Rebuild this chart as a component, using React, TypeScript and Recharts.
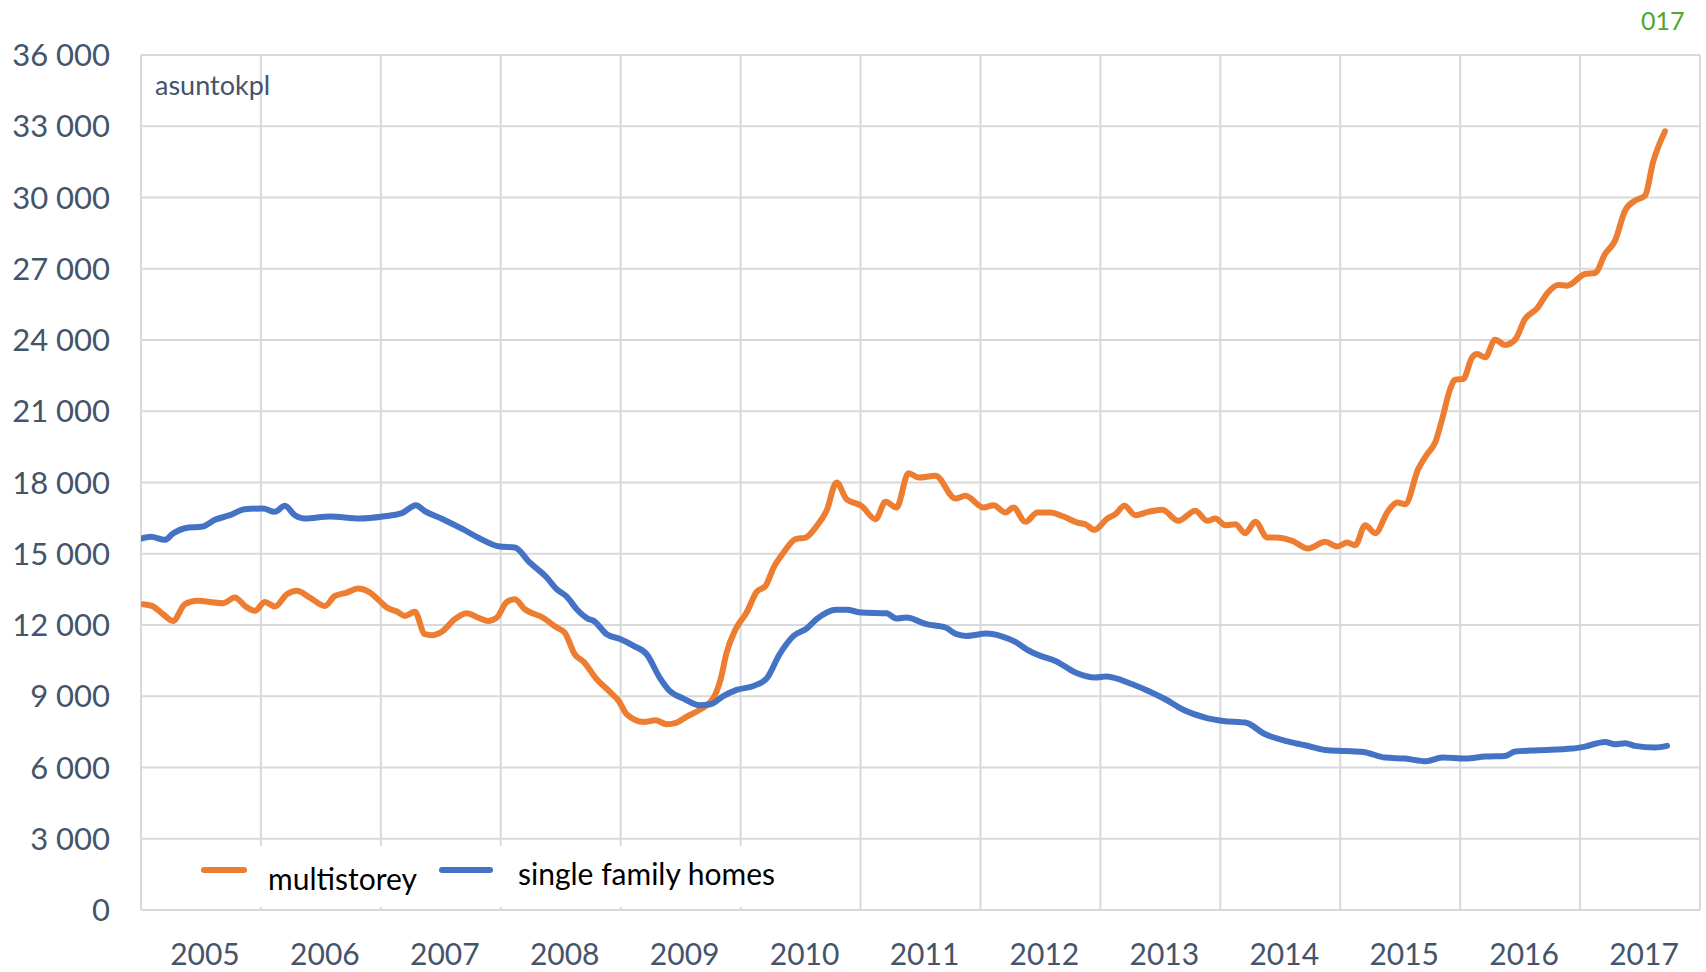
import { LineChart, Line, XAxis, YAxis, CartesianGrid } from "recharts";

// months counted from Jan 2005 (0) – values are rolling 12 month sums
const multistoreyMonths = [
  0.2, 1.1, 2.2, 3.2, 4.4, 5.6, 8.2, 9.4, 10.4, 11.4, 12.4, 13.4, 14.6, 15.6, 16.9, 18.4, 19.4, 20.6,
  21.7, 22.9, 23.7, 24.6, 25.6, 26.4, 27.4, 28.4, 29.1, 30.2, 31.4, 32.6, 33.7, 34.7, 35.6, 36.6,
  37.4, 38.4, 40.2, 41.6, 42.4, 43.4, 44.3, 45.6, 47, 47.8, 48.6, 50.3, 51.5, 52.6, 53.6, 54.6, 55.9,
  57.3, 58, 58.6, 59.5, 60.6, 61.6, 62.5, 63.3, 64.3, 65.5, 66.5, 67.5, 68.6, 69.6, 70.6, 72.1, 73.5,
  74.5, 75.6, 76.8, 77.8, 79.5, 81.5, 82.5, 84.3, 85.3, 86.5, 87.3, 88.5, 89.7, 91, 92.3, 93.7, 94.5,
  95.4, 96.7, 97.5, 98.4, 99.5, 100.8, 102.2, 103.8, 105.5, 106.7, 107.5, 108.5, 109.5, 110.5, 111.5,
  112.7, 113.5, 115.2, 116.8, 118.5, 119.7, 120.7, 121.5, 122.5, 123.5, 124.8, 125.7, 126.5, 127.8,
  128.7, 129.5, 130.2, 131, 131.5, 132.3, 133.2, 133.7, 134.5, 135.5, 136.5, 137.5, 138.5, 139.7,
  140.8, 141.8, 142.7, 144.5, 145.5, 146.5, 147.5, 148.5, 149.5, 150.5, 151.3, 152.5,
];
const multistoreyValues = [
  12875, 12805, 12454, 12173, 12875, 13016, 12917, 13156, 12805, 12595, 12973, 12777, 13297, 13437,
  13156, 12805, 13226, 13367, 13535, 13367, 13086, 12735, 12567, 12384, 12553, 11612, 11570, 11752,
  12244, 12496, 12314, 12173, 12314, 12973, 13086, 12665, 12314, 11893, 11682, 10769, 10447, 9716,
  9155, 8804, 8242, 7919, 7989, 7821, 7891, 8144, 8425, 8944, 9716, 10839, 11822, 12524, 13395,
  13647, 14420, 15052, 15613, 15683, 16105, 16807, 18000, 17298, 17017, 16456, 17186, 16947, 18393,
  18211, 18281, 17326, 17438, 16947, 17045, 16736, 16947, 16343, 16736, 16736, 16568, 16315, 16245,
  16006, 16484, 16666, 17017, 16624, 16764, 16849, 16385, 16807, 16385, 16484, 16203, 16245, 15866,
  16343, 15683, 15683, 15543, 15220, 15501, 15304, 15473, 15360, 16203, 15866, 16807, 17158, 17087,
  18562, 19193, 19685, 20673, 21937, 22330, 22358, 23270, 23410, 23270, 24014, 23790, 24014, 24885,
  25334, 26008, 26317, 26289, 26780, 26822, 27623, 28184, 29448, 29869, 30080, 31484, 32789,
];

const singleFamilyMonths = [
  0, 1, 2.4, 3.2, 4.4, 6.2, 7.4, 8.9, 10.4, 12.2, 13.4, 14.4, 15.4, 16.4, 18.9, 21.9, 24.2, 26.1,
  27.5, 28.4, 30.2, 32.2, 33.6, 35.9, 37.4, 38.9, 40.6, 41.6, 42.6, 43.6, 44.7, 45.3, 46.6, 48, 49.3,
  50.6, 51.9, 52.9, 54.3, 55.9, 57, 58.3, 59.6, 61.3, 62.6, 63.9, 65.3, 66.6, 67.6, 69.6, 70.6, 72.1,
  74.6, 75.6, 76.6, 78.6, 80.5, 81.6, 82.6, 84.6, 86.2, 87.5, 88.7, 90, 91.5, 93.5, 95.5, 96.5, 99.2,
  100.8, 102.5, 104.2, 106.5, 108.3, 110.5, 112.5, 114.5, 116.5, 118.5, 120.5, 122.3, 124.5, 126.5,
  128.6, 130.2, 132.5, 134.5, 136.5, 137.5, 139.8, 143.2, 144.5, 146.5, 147.5, 148.5, 149.5, 151.5,
  152.7,
];
const singleFamilyValues = [
  15641, 15712, 15585, 15852, 16076, 16147, 16428, 16624, 16877, 16905, 16764, 17017, 16624, 16484,
  16568, 16484, 16568, 16708, 17045, 16793, 16456, 16035, 15712, 15304, 15262, 14630, 13999, 13507,
  13198, 12665, 12272, 12173, 11612, 11401, 11120, 10769, 9787, 9225, 8902, 8621, 8663, 9014, 9267,
  9436, 9745, 10769, 11542, 11851, 12244, 12637, 12637, 12524, 12496, 12272, 12314, 12033, 11893,
  11612, 11542, 11640, 11514, 11289, 10952, 10699, 10489, 9997, 9787, 9829, 9506, 9225, 8874, 8453,
  8102, 7961, 7891, 7400, 7119, 6937, 6740, 6698, 6656, 6417, 6375, 6262, 6417, 6375, 6459, 6487,
  6670, 6726, 6796, 6881, 7077, 6979, 7021, 6909, 6839, 6909,
];

const years = [2005, 2006, 2007, 2008, 2009, 2010, 2011, 2012, 2013, 2014, 2015, 2016, 2017];
const yTicks = [0, 3000, 6000, 9000, 12000, 15000, 18000, 21000, 24000, 27000, 30000, 33000, 36000];

const multistorey = multistoreyMonths.map((m, i) => ({ m, v: multistoreyValues[i] }));
const singleFamily = singleFamilyMonths.map((m, i) => ({ m, v: singleFamilyValues[i] }));
const yearStarts = [...years.map((_, i) => i * 12), years.length * 12];
const yearMids = years.map((_, i) => i * 12 + 6);

const TEXT = "#44546A";
const FONT = "Lato, 'Open Sans', sans-serif";

const fmt = (v: number) => String(v).replace(/\B(?=(\d{3})+(?!\d))/g, " ");

export default function App() {
  return (
    <div style={{ position: "absolute", left: 0, top: 0, width: 1706, height: 972, background: "#fff", fontFamily: FONT }}>
      <LineChart width={1706} height={972} margin={{ top: 55, right: 6, bottom: 0, left: 0 }}>
        <CartesianGrid xAxisId="grid" stroke="#d9d9d9" strokeWidth={2} />
        {/* year labels in the middle of each year */}
        <XAxis
          xAxisId="years"
          type="number"
          dataKey="m"
          domain={[0, 156]}
          ticks={yearMids}
          allowDataOverflow
          tickFormatter={(m) => String(2005 + (m - 6) / 12)}
          tick={{ fill: TEXT, fontSize: 30, fontFamily: FONT, dx: 4 }}
          tickLine={false}
          axisLine={false}
          tickMargin={28}
          height={62}
          interval={0}
        />
        {/* year boundaries, only used for the vertical grid */}
        <XAxis
          xAxisId="grid"
          type="number"
          dataKey="m"
          domain={[0, 156]}
          ticks={yearStarts}
          allowDataOverflow
          height={0}
          hide
        />
        <YAxis
          type="number"
          domain={[0, 36000]}
          ticks={yTicks}
          tickFormatter={fmt}
          tick={{ fill: TEXT, fontSize: 31, fontFamily: FONT }}
          tickLine={false}
          axisLine={false}
          tickMargin={25}
          width={141}
          interval={0}
        />
        <Line
          xAxisId="grid"
          data={multistorey}
          dataKey="v"
          type="monotone"
          stroke="#ED7D31"
          strokeWidth={6}
          strokeLinecap="round"
          dot={false}
          isAnimationActive={false}
        />
        <Line
          xAxisId="years"
          data={singleFamily}
          dataKey="v"
          type="monotone"
          stroke="#4472C4"
          strokeWidth={6}
          strokeLinecap="round"
          dot={false}
          isAnimationActive={false}
        />
      </LineChart>

      <div style={{ position: "absolute", left: 155, top: 70, fontSize: 27, lineHeight: "30px", color: TEXT }}>asuntokpl</div>
      <div style={{ position: "absolute", left: 1641, top: 6, fontSize: 25, lineHeight: "28px", color: "#4EA72E" }}>017</div>

      <div
        style={{
          position: "absolute",
          left: 160,
          top: 846,
          width: 640,
          height: 61,
          background: "#fff",
          fontSize: 30,
          color: "#000",
        }}
      >
        <div style={{ position: "absolute", left: 41, top: 21, width: 46, height: 6, borderRadius: 3, background: "#ED7D31" }} />
        <div style={{ position: "absolute", left: 108, top: 14, lineHeight: "36px" }}>multistorey</div>
        <div style={{ position: "absolute", left: 279, top: 21, width: 54, height: 6, borderRadius: 3, background: "#4472C4" }} />
        <div style={{ position: "absolute", left: 358, top: 9, lineHeight: "36px" }}>single family homes</div>
      </div>
    </div>
  );
}
